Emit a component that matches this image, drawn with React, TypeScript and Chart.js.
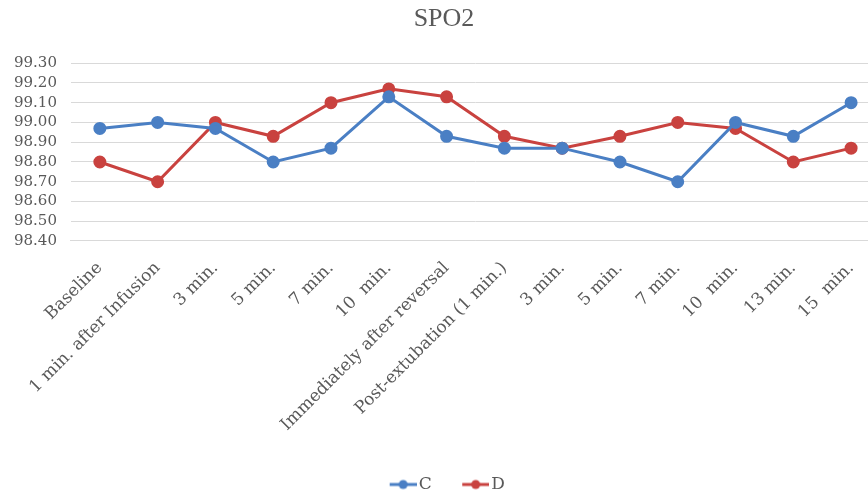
import React, { useEffect, useRef } from "react";
import { Chart, registerables } from "chart.js";

Chart.register(...registerables);

const categories = [
  "Baseline",
  "1 min. after Infusion",
  "3 min.",
  "5 min.",
  "7 min.",
  "10  min.",
  "Immediately after reversal",
  "Post-extubation (1 min.)",
  "3 min.",
  "5 min.",
  "7 min.",
  "10  min.",
  "13 min.",
  "15  min.",
];

const seriesC = [98.97, 99.0, 98.97, 98.8, 98.87, 99.13, 98.93, 98.87, 98.87, 98.8, 98.7, 99.0, 98.93, 99.1];
const seriesD = [98.8, 98.7, 99.0, 98.93, 99.1, 99.17, 99.13, 98.93, 98.87, 98.93, 99.0, 98.97, 98.8, 98.87];

const yMin = 98.4;
const yMax = 99.3;
const yStep = 0.1;

const BLUE = "#4a7fc4";
const RED = "#c9423f";
const FONT = "'DejaVu Serif', serif";
const TITLE_FONT = "'Liberation Serif', serif";

const BOX_W = 27;

function legendIcon(color: string) {
  const w = BOX_W + 13;
  const c = document.createElement("canvas");
  c.width = w;
  c.height = 12;
  const ctx = c.getContext("2d")!;
  const x0 = w - 27;
  ctx.strokeStyle = color;
  ctx.lineWidth = 3;
  ctx.beginPath();
  ctx.moveTo(x0, 6);
  ctx.lineTo(w, 6);
  ctx.stroke();
  ctx.fillStyle = color;
  ctx.beginPath();
  ctx.arc(x0 + 13.5, 6, 4.5, 0, Math.PI * 2);
  ctx.fill();
  return c;
}

export default function App() {
  const ref = useRef<HTMLCanvasElement>(null);
  useEffect(() => {
    const icons = [legendIcon(BLUE), legendIcon(RED)];
    const chart = new Chart(ref.current!, {
      type: "line",
      data: {
        labels: categories,
        datasets: [
          {
            label: "C",
            data: seriesC,
            borderColor: BLUE,
            backgroundColor: BLUE,
            borderWidth: 3,
            pointRadius: 5,
            pointHoverRadius: 5,
            pointBackgroundColor: BLUE,
            pointBorderColor: BLUE,
            tension: 0,
          },
          {
            label: "D",
            data: seriesD,
            borderColor: RED,
            backgroundColor: RED,
            borderWidth: 3,
            pointRadius: 5,
            pointHoverRadius: 5,
            pointBackgroundColor: RED,
            pointBorderColor: RED,
            tension: 0,
          },
        ],
      },
      options: {
        animation: false,
        responsive: false,
        maintainAspectRatio: false,
        layout: { padding: { left: 0, right: 0, top: 2, bottom: 0 } },
        plugins: {
          title: {
            display: true,
            text: "SPO2",
            color: "#595959",
            font: { family: TITLE_FONT, size: 26, weight: "normal" },
            padding: { top: 2, bottom: 28 },
          },
          legend: {
            position: "bottom",
            labels: {
              usePointStyle: true,
              pointStyleWidth: BOX_W,
              boxHeight: 12,
              color: "#595959",
              font: { family: FONT, size: 17 },
              padding: 24,
              generateLabels: (chart: any) => {
                const items = Chart.defaults.plugins.legend.labels.generateLabels(chart);
                items.forEach((it: any, i: number) => {
                  it.pointStyle = icons[i];
                });
                return items;
              },
            },
          },
          tooltip: { enabled: false },
        },
        scales: {
          x: {
            offset: true,
            grid: { display: false, drawTicks: false },
            border: { display: true, color: "#d9d9d9", width: 1 },
            ticks: {
              autoSkip: false,
              minRotation: 45,
              maxRotation: 45,
              color: "#595959",
              font: { family: FONT, size: 17 },
              padding: 17,
            },
          },
          y: {
            min: yMin,
            max: yMax,
            grid: { color: "#d9d9d9", drawTicks: false },
            border: { display: false },
            ticks: {
              stepSize: yStep,
              autoSkip: false,
              color: "#595959",
              font: { family: FONT, size: 15 },
              padding: 14,
              callback: (v: any) => Number(v).toFixed(2),
            },
          },
        },
      },
    });
    return () => chart.destroy();
  }, []);
  return (
    <div style={{ position: "fixed", left: 0, top: 0, width: 868, height: 493, overflow: "hidden", background: "#fff" }}>
      <canvas ref={ref} width={888} height={503} style={{ width: 888, height: 503 }} />
    </div>
  );
}
